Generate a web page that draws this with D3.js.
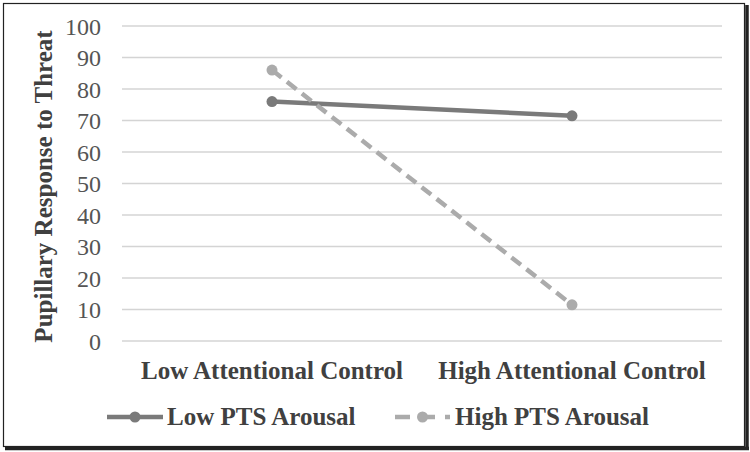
<!DOCTYPE html>
<html>
<head>
<meta charset="utf-8">
<script src="https://cdn.jsdelivr.net/npm/d3@7"></script>
<style>
  html, body { margin: 0; padding: 0; background: #fff; }
  svg { display: block; }
</style>
</head>
<body>
<svg id="chart" width="750" height="452"></svg>
<script>
// ---- data ----
const categories = ["Low Attentional Control", "High Attentional Control"];
const seriesNames = ["Low PTS Arousal", "High PTS Arousal"];
const lowPTS = [76, 71.5];
const highPTS = [86, 11.5];
const yTicks = [0, 10, 20, 30, 40, 50, 60, 70, 80, 90, 100];
const yTitle = "Pupillary Response to Threat";

const series = [
  { name: seriesNames[0], values: lowPTS, color: "#7a7a7a", dash: null },
  { name: seriesNames[1], values: highPTS, color: "#ababab", dash: "12,7" }
];

const svg = d3.select("#chart");
const serif = "'Liberation Serif', 'Times New Roman', serif";

// border with shadow
svg.append("rect").attr("x", 3.5).attr("y", 3.5).attr("width", 741).attr("height", 443)
  .attr("fill", "#fff").attr("stroke", "#222").attr("stroke-width", 1.2);
svg.append("line").attr("x1", 747).attr("x2", 747).attr("y1", 5).attr("y2", 450)
  .attr("stroke", "#222").attr("stroke-width", 3.5);
svg.append("line").attr("x1", 5).attr("x2", 749).attr("y1", 448.5).attr("y2", 448.5)
  .attr("stroke", "#222").attr("stroke-width", 3.5);

const plot = { left: 122, right: 722, top: 26, bottom: 341 };

const x = d3.scaleBand().domain(categories).range([plot.left, plot.right]);
const y = d3.scaleLinear().domain([0, 100]).range([plot.bottom, plot.top]);

// gridlines
svg.append("g").selectAll("line").data(yTicks).join("line")
  .attr("x1", plot.left).attr("x2", plot.right)
  .attr("y1", d => y(d)).attr("y2", d => y(d))
  .attr("stroke", "#d4d4d4").attr("stroke-width", 1.5);

// y axis (labels only)
const yAxis = d3.axisLeft(y).tickValues(yTicks).tickSize(0).tickPadding(0);
const gy = svg.append("g").attr("transform", "translate(101,0)").call(yAxis);
gy.select(".domain").remove();
gy.selectAll("text").attr("font-family", serif).attr("font-size", 24)
  .attr("fill", "#555").attr("dy", "0.34em");

// x axis labels
const xAxis = d3.axisBottom(x).tickSize(0).tickPadding(0);
const gx = svg.append("g").attr("transform", "translate(0,379)").call(xAxis);
gx.select(".domain").remove();
gx.selectAll("text").attr("font-family", serif).attr("font-size", 25)
  .attr("font-weight", "bold").attr("fill", "#404040").attr("dy", 0);

// y title
svg.append("text")
  .attr("transform", `translate(52,${(plot.top + plot.bottom) / 2 + 3}) rotate(-90)`)
  .attr("text-anchor", "middle")
  .attr("font-family", serif).attr("font-size", 25).attr("font-weight", "bold")
  .attr("fill", "#404040").text(yTitle);

// lines
const line = d3.line().x((d, i) => x(categories[i]) + x.bandwidth() / 2).y(d => y(d));
series.forEach(s => {
  svg.append("path").datum(s.values).attr("d", line)
    .attr("fill", "none").attr("stroke", s.color).attr("stroke-width", 4.5)
    .attr("stroke-dasharray", s.dash);
  svg.append("g").selectAll("circle").data(s.values).join("circle")
    .attr("cx", (d, i) => x(categories[i]) + x.bandwidth() / 2)
    .attr("cy", d => y(d)).attr("r", 5.5).attr("fill", s.color);
});

// legend
const legendItems = [
  { s: series[0], x0: 107, x1: 163, tx: 167 },
  { s: series[1], x0: 395, x1: 450, tx: 455 }
];
const ly = 417;
legendItems.forEach(it => {
  svg.append("line").attr("x1", it.x0).attr("x2", it.x1).attr("y1", ly).attr("y2", ly)
    .attr("stroke", it.s.color).attr("stroke-width", 4.5)
    .attr("stroke-dasharray", it.s.dash ? "15,10" : null);
  svg.append("circle").attr("cx", (it.x0 + it.x1) / 2).attr("cy", ly).attr("r", 5.5)
    .attr("fill", it.s.color);
  svg.append("text").attr("x", it.tx).attr("y", 425)
    .attr("font-family", serif).attr("font-size", 25).attr("font-weight", "bold")
    .attr("fill", "#404040").text(it.s.name);
});
</script>
</body>
</html>
